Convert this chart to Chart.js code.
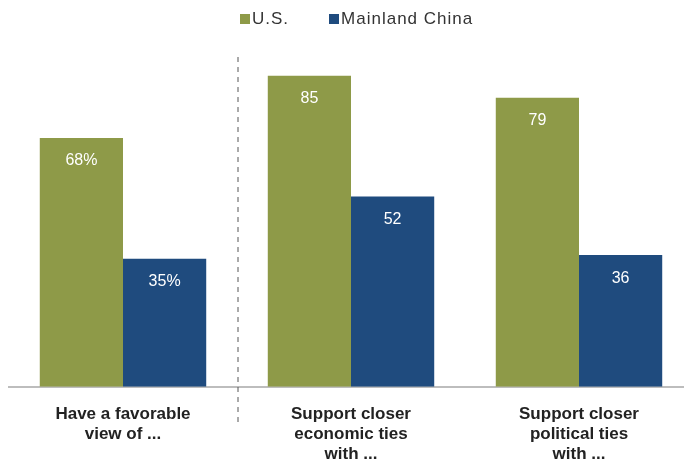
<!DOCTYPE html>
<html>
<head>
<meta charset="utf-8">
<script src="https://cdn.jsdelivr.net/npm/chart.js@4.4.0/dist/chart.umd.min.js"></script>
<style>
  html,body{margin:0;padding:0;background:#fff;overflow:hidden;}
  #wrap{position:relative;width:700px;height:466px;}
  #legend{position:absolute;top:9px;left:240px;font:17px "Liberation Sans",Arial,sans-serif;letter-spacing:1px;color:#333;white-space:nowrap;}
  #legend span.box{display:inline-block;width:10px;height:10px;margin-right:2px;vertical-align:0px;}
  #legend span.item{margin-right:40px;}
</style>
</head>
<body>
<div id="wrap">
  <div id="legend"></div>
  <canvas id="c" width="700" height="466"></canvas>
</div>
<script>
const categories = [
  ['Have a favorable', 'view of ...'],
  ['Support closer', 'economic ties', 'with ...'],
  ['Support closer', 'political ties', 'with ...']
];
const seriesNames = ['U.S.', 'Mainland China'];
const usValues = [68, 85, 79];
const chinaValues = [35, 52, 36];
const valueLabelsUS = ['68%', '85', '79'];
const valueLabelsChina = ['35%', '52', '36'];
const colors = ['#8e9a48', '#1f4b7e'];

// legend
(function(){
  const lg = document.getElementById('legend');
  seriesNames.forEach((n,i)=>{
    const s = document.createElement('span');
    s.className = 'item';
    s.innerHTML = '<span class="box" style="background:'+colors[i]+'"></span>' + n;
    lg.appendChild(s);
  });
})();

const valueLabels = {
  id: 'valueLabels',
  afterDatasetsDraw(chart){
    const ctx = chart.ctx;
    const labels = [valueLabelsUS, valueLabelsChina];
    ctx.save();
    ctx.fillStyle = '#fff';
    ctx.font = '16px "Liberation Sans", Arial, sans-serif';
    ctx.textAlign = 'center';
    ctx.textBaseline = 'middle';
    chart.data.datasets.forEach((ds, di)=>{
      chart.getDatasetMeta(di).data.forEach((bar, i)=>{
        ctx.fillText(labels[di][i], bar.x, bar.y + 23);
      });
    });
    // dashed divider between first and second group
    const x = chart.scales.x;
    const xd = (x.getPixelForValue(0) + x.getPixelForValue(1)) / 2 + 1;
    ctx.strokeStyle = '#555';
    ctx.lineWidth = 1;
    ctx.setLineDash([5, 5]);
    ctx.beginPath();
    ctx.moveTo(xd, 57);
    ctx.lineTo(xd, 424);
    ctx.stroke();
    ctx.restore();
  }
};

new Chart(document.getElementById('c'), {
  type: 'bar',
  data: {
    labels: categories,
    datasets: [
      { label: seriesNames[0], data: usValues, backgroundColor: colors[0], categoryPercentage: 0.73, barPercentage: 1 },
      { label: seriesNames[1], data: chinaValues, backgroundColor: colors[1], categoryPercentage: 0.73, barPercentage: 1 }
    ]
  },
  options: {
    responsive: false,
    animation: false,
    devicePixelRatio: 1,
    layout: { padding: { left: 9, right: 7, top: 21, bottom: -15 } },
    plugins: { legend: { display: false }, tooltip: { enabled: false } },
    scales: {
      x: {
        grid: { display: false, drawTicks: false },
        border: { display: true, color: '#bdbdbd', width: 2 },
        ticks: {
          color: '#222',
          padding: 17,
          font: { family: '"Liberation Sans Narrow", "Liberation Sans", Arial, sans-serif', size: 17, weight: 'bold', lineHeight: 1.18 }
        }
      },
      y: {
        display: false,
        min: 0,
        max: 100
      }
    }
  },
  plugins: [valueLabels]
});
</script>
</body>
</html>
